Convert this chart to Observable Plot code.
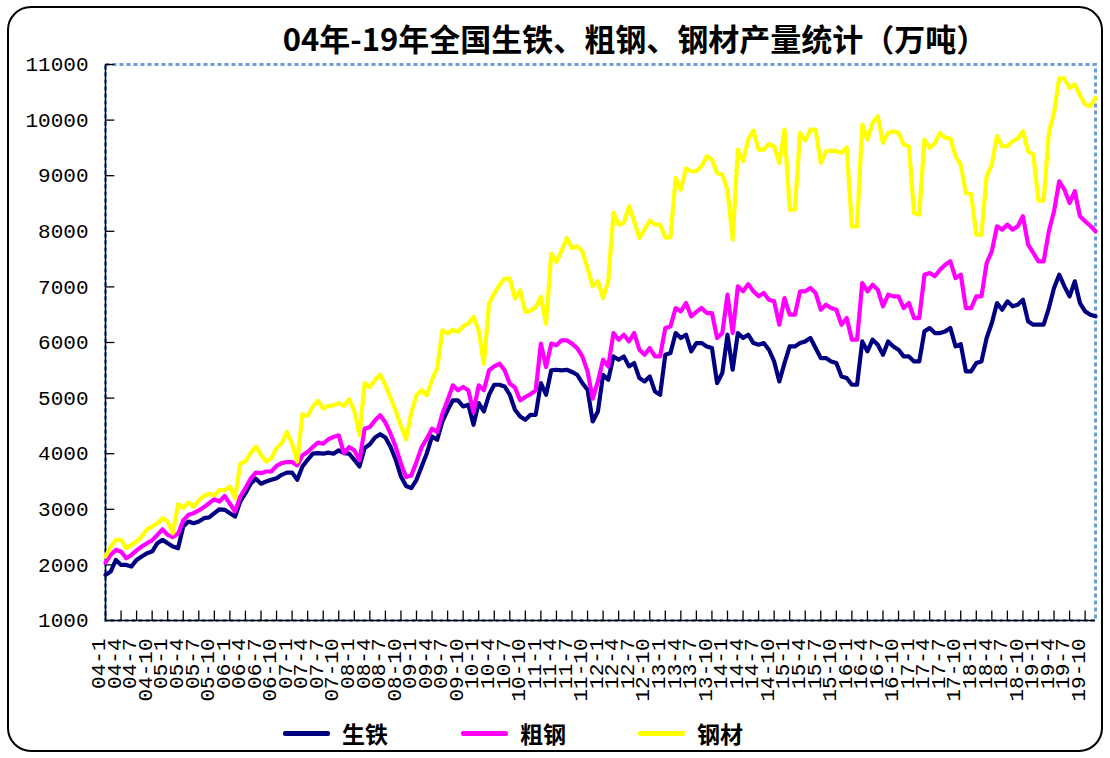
<!DOCTYPE html>
<html><head><meta charset="utf-8">
<script src="https://cdn.jsdelivr.net/npm/d3@7"></script>
<script src="https://cdn.jsdelivr.net/npm/@observablehq/plot@0.6"></script>
<style>
html,body{margin:0;padding:0;background:#fff;}
#wrap{position:relative;width:1110px;height:758px;overflow:hidden;}
#box{position:absolute;left:7px;top:6px;width:1096px;height:746px;border:2px solid #000;border-radius:24px;box-sizing:border-box;}
#title{position:absolute;left:250px;width:770px;top:15px;text-align:center;font-family:"Noto Sans CJK SC";font-weight:bold;font-size:31px;white-space:nowrap;color:#000;}
#chart{position:absolute;left:0;top:0;}
#legend{position:absolute;top:719px;left:0;width:1110px;height:30px;}
.item{position:absolute;top:0;display:flex;align-items:center;font-family:"Noto Sans CJK SC";font-weight:bold;font-size:23px;line-height:28px;color:#000;}
.swatch{width:47px;height:5px;margin-right:12px;border-radius:2px;}
</style></head><body>
<div id="wrap"><div id="box"></div><div id="title">04年-19年全国生铁、粗钢、钢材产量统计（万吨）</div><div id="chart"></div><div id="legend"></div></div>
<script>
// Series (万吨), monthly 2004-01 .. 2019-12
const pigIron = [
  1820,1880,2090,2000,2000,1970,2090,2150,2210,2240,2390,2450,
  2390,2330,2300,2690,2780,2750,2780,2840,2855,2930,3000,2990,
  2930,2870,3140,3290,3460,3550,3460,3500,3530,3560,3620,3660,
  3660,3530,3770,3890,4000,4010,4000,4020,4000,4060,4010,4000,
  3890,3770,4100,4170,4290,4350,4290,4120,3890,3590,3420,3380,
  3530,3770,4010,4310,4250,4580,4780,4960,4960,4850,4880,4520,
  4910,4760,5060,5240,5240,5210,5060,4790,4670,4610,4700,4700,
  5270,5060,5500,5510,5500,5510,5470,5420,5270,5150,4580,4760,
  5420,5330,5750,5690,5750,5570,5630,5360,5300,5390,5120,5060,
  5780,5810,6170,6080,6140,5840,5990,5990,5930,5900,5270,5450,
  6140,5510,6170,6080,6140,5990,5960,5990,5870,5660,5300,5630,
  5930,5930,5990,6020,6080,5900,5720,5720,5660,5630,5390,5360,
  5240,5240,6020,5840,6050,5960,5780,6020,5930,5870,5750,5750,
  5660,5660,6200,6260,6170,6170,6200,6260,5930,5970,5480,5480,
  5630,5660,6080,6350,6710,6590,6740,6650,6680,6770,6380,6320,
  6320,6320,6620,6980,7220,7010,6830,7100,6710,6560,6500,6470
];
const crudeSteel = [
  2040,2180,2270,2240,2120,2180,2260,2330,2390,2440,2540,2640,
  2540,2500,2560,2800,2900,2930,2980,3040,3110,3180,3140,3240,
  3100,2960,3230,3380,3550,3660,3650,3680,3680,3780,3830,3850,
  3850,3790,3970,4030,4120,4200,4180,4260,4300,4330,4010,4120,
  4060,3880,4450,4480,4600,4690,4560,4360,4120,3820,3580,3610,
  3850,4120,4270,4450,4390,4720,4960,5230,5140,5200,5140,4750,
  5230,5140,5500,5570,5620,5500,5260,5190,4960,5020,5070,5140,
  5980,5560,5980,5950,6040,6040,5980,5900,5750,5480,4990,5300,
  5690,5570,6170,6050,6140,6020,6170,5870,5780,5900,5750,5750,
  6260,6290,6620,6560,6710,6470,6550,6620,6530,6530,6080,6170,
  6860,6170,7010,6920,7050,6920,6830,6890,6770,6740,6320,6800,
  6500,6500,6920,6920,6980,6890,6590,6680,6620,6590,6320,6440,
  6050,6050,7070,6920,7040,6950,6650,6860,6830,6830,6620,6710,
  6440,6440,7220,7250,7190,7310,7400,7460,7160,7220,6620,6620,
  6830,6830,7430,7640,8090,8030,8120,8030,8090,8270,7760,7610,
  7460,7460,8000,8360,8900,8750,8510,8720,8270,8180,8100,8000
];
const steelProducts = [
  2150,2330,2450,2450,2300,2360,2420,2510,2640,2690,2750,2840,
  2780,2570,3090,3030,3120,3050,3160,3240,3280,3250,3350,3340,
  3410,3200,3820,3860,4010,4130,3980,3860,3920,4100,4190,4390,
  4180,3860,4710,4680,4850,4950,4810,4860,4870,4910,4860,4980,
  4770,4340,5270,5200,5330,5420,5240,5000,4770,4500,4260,4740,
  5050,5140,5050,5330,5540,6220,6160,6230,6190,6290,6340,6460,
  6220,5620,6700,6880,7030,7150,7150,6790,6940,6550,6570,6640,
  6820,6340,7600,7450,7650,7880,7700,7730,7640,7340,7010,7100,
  6800,7100,8330,8120,8150,8450,8180,7880,8030,8190,8120,8120,
  7890,7890,8960,8750,9130,9080,9080,9170,9350,9290,9050,9020,
  8750,7850,9470,9260,9650,9810,9470,9470,9570,9530,9230,9830,
  8390,8390,9770,9630,9830,9830,9230,9440,9450,9440,9410,9510,
  8090,8090,9920,9650,9950,10070,9590,9770,9800,9770,9560,9530,
  8330,8300,9650,9500,9590,9770,9680,9670,9350,9200,8690,8670,
  7940,7940,8990,9200,9710,9530,9530,9620,9670,9800,9440,9380,
  8550,8550,9770,10130,10750,10750,10580,10640,10450,10280,10250,10400
];
const seriesNames = ["生铁", "粗钢", "钢材"];
const seriesColors = ["#000080", "#ff00ff", "#ffff00"];
const yTicks = [1000,2000,3000,4000,5000,6000,7000,8000,9000,10000,11000];
const tickLabels = [
  "04-1","04-4","04-7","04-10","05-1","05-4","05-7","05-10",
  "06-1","06-4","06-7","06-10","07-1","07-4","07-7","07-10",
  "08-1","08-4","08-7","08-10","09-1","09-4","09-7","09-10",
  "10-1","10-4","10-7","10-10","11-1","11-4","11-7","11-10",
  "12-1","12-4","12-7","12-10","13-1","13-4","13-7","13-10",
  "14-1","14-4","14-7","14-10","15-1","15-4","15-7","15-10",
  "16-1","16-4","16-7","16-10","17-1","17-4","17-7","17-10",
  "18-1","18-4","18-7","18-10","19-1","19-4","19-7","19-10"
];

const allSeries = [pigIron, crudeSteel, steelProducts];
const xTicks = tickLabels.map((_, k) => k * 3);
const nPoints = pigIron.length;

const lineMarks = allSeries.map((arr, s) =>
  Plot.line(arr, {x: (d, i) => i, y: d => d, stroke: seriesColors[s], strokeWidth: 4.2, strokeLinejoin: "round", strokeLinecap: "round"})
);

const chart = Plot.plot({
  width: 1110, height: 716,
  marginLeft: 105, marginRight: 15, marginTop: 64, marginBottom: 96,
  x: {domain: [0, nPoints - 1]},
  y: {domain: [1000, 11000]},
  style: {background: "transparent", overflow: "visible", fontFamily: "Liberation Mono", color: "#000"},
  marks: [
    Plot.frame({stroke: "#6f9bd8", strokeWidth: 3, strokeDasharray: "4,3"}),
    Plot.ruleX([0], {stroke: "#000", strokeWidth: 1.5}),
    Plot.ruleY([1000], {stroke: "#000", strokeWidth: 1.5}),
    Plot.ruleY(yTicks, {y: d => d, x1: 0, x2: 1.8, stroke: "#000", strokeWidth: 1.3}),
    Plot.ruleX(xTicks, {x: d => d, y1: 1000, y2: 1170, stroke: "#000", strokeWidth: 1.3}),
    Plot.axisY({ticks: yTicks, tickSize: 0, tickPadding: 17, fontSize: 21, tickFormat: d => String(d), label: null}),
    Plot.axisX({ticks: xTicks, tickSize: 0, tickPadding: 18, fontSize: 21, tickRotate: -90, dx: -7, tickFormat: d => tickLabels[d / 3], label: null}),
    ...lineMarks
  ]
});
document.getElementById("chart").appendChild(chart);

const legend = document.getElementById("legend");
const legendLeft = [283, 461, 638];
seriesNames.forEach((name, s) => {
  const item = document.createElement("div");
  item.className = "item";
  item.style.left = legendLeft[s] + "px";
  const sw = document.createElement("span");
  sw.className = "swatch";
  sw.style.background = seriesColors[s];
  const tx = document.createElement("span");
  tx.textContent = name;
  item.appendChild(sw); item.appendChild(tx);
  legend.appendChild(item);
});
</script>
</body></html>
